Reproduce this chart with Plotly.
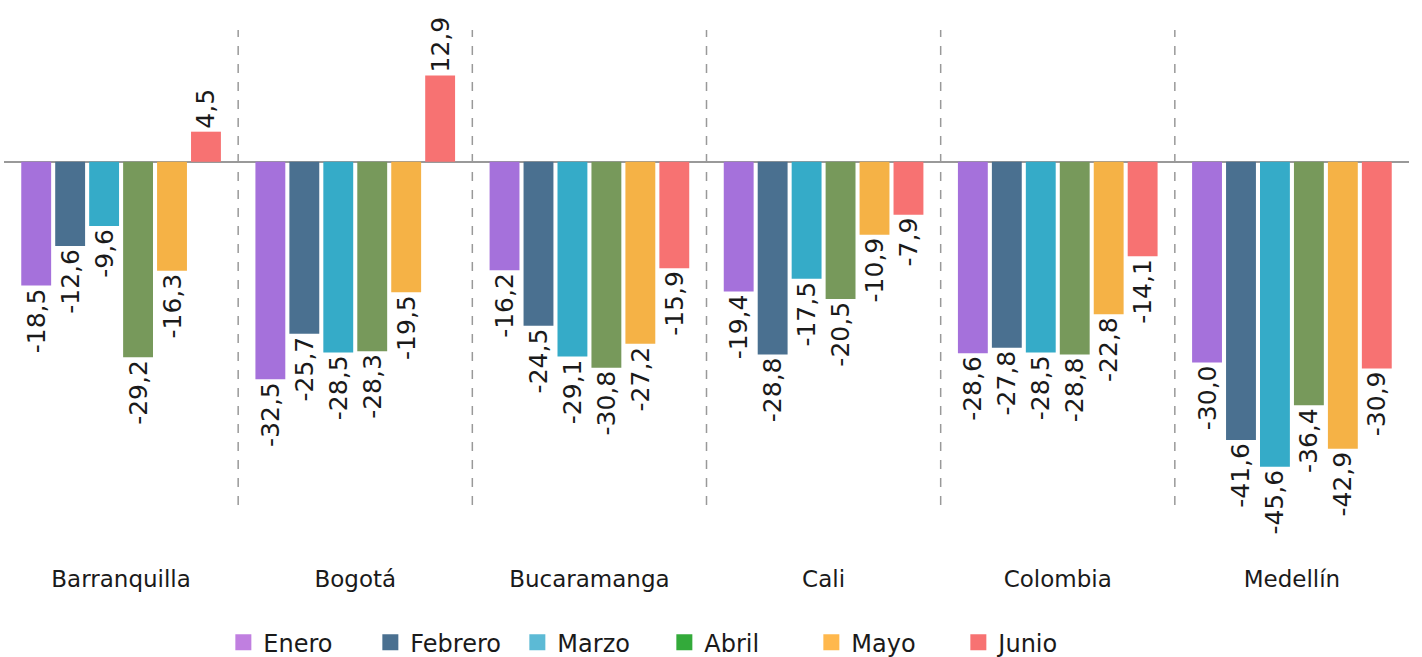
import plotly.graph_objects as go

ciudades = ["Barranquilla", "Bogotá", "Bucaramanga", "Cali", "Colombia", "Medellín"]
meses = ["Enero", "Febrero", "Marzo", "Abril", "Mayo", "Junio"]

enero = [-18.5, -32.5, -16.2, -19.4, -28.6, -30.0]
febrero = [-12.6, -25.7, -24.5, -28.8, -27.8, -41.6]
marzo = [-9.6, -28.5, -29.1, -17.5, -28.5, -45.6]
abril = [-29.2, -28.3, -30.8, -20.5, -28.8, -36.4]
mayo = [-16.3, -19.5, -27.2, -10.9, -22.8, -42.9]
junio = [4.5, 12.9, -15.9, -7.9, -14.1, -30.9]

series = [enero, febrero, marzo, abril, mayo, junio]
bar_colors = ["#A571DB", "#4A7090", "#35ABC8", "#77995B", "#F5B246", "#F77272"]
legend_colors = ["#C07FE0", "#4A7090", "#5CBAD5", "#33AA3A", "#FFB84D", "#F77272"]

FONT = "DejaVu Sans"

fig = go.Figure()
for mes, vals, col in zip(meses, series, bar_colors):
    fig.add_trace(go.Bar(
        x=ciudades, y=vals, name=mes, showlegend=False,
        marker=dict(color=col, line=dict(width=0)),
        text=[f"{v:.1f}".replace(".", ",") for v in vals],
        textposition="outside", textangle=-90, constraintext="none",
        textfont=dict(size=25, color="#1a1a1a", family=FONT),
        cliponaxis=False,
    ))

# legend-only markers (legend colours differ slightly from bars in the original)
for mes, col in zip(meses, legend_colors):
    fig.add_trace(go.Scatter(
        x=[None], y=[None], mode="markers", name=mes,
        marker=dict(symbol="square", size=22, color=col),
    ))

# dashed separators between groups
for i in range(len(ciudades) - 1):
    fig.add_shape(type="line", xref="x", yref="paper",
                  x0=i + 0.5, x1=i + 0.5, y0=0, y1=1,
                  line=dict(color="#999999", width=1.5, dash="dash"))

fig.update_layout(
    width=1422, height=657,
    margin=dict(l=4, r=13, t=30, b=152, autoexpand=False),
    paper_bgcolor="white", plot_bgcolor="white",
    barmode="group", bargap=0.13, bargroupgap=0.12,
    font=dict(family=FONT, color="#1a1a1a"),
    showlegend=True,
    legend=dict(orientation="h", x=0.47, xanchor="center", y=-0.29, yanchor="middle",
                font=dict(size=24, family=FONT), itemsizing="trace",
                entrywidth=102, entrywidthmode="pixels"),
    xaxis=dict(showgrid=False, showline=False, ticks="", automargin=False,
               tickfont=dict(size=23, family=FONT, color="#1a1a1a"),
               ticklabelstandoff=58, range=[-0.5, 5.5]),
    yaxis=dict(range=[-51.3, 19.7], showgrid=False, showticklabels=False,
               automargin=False,
               zeroline=True, zerolinecolor="#999999", zerolinewidth=2),
)

fig.write_html("out.html", config={"displayModeBar": False},
               post_script="document.body.style.margin='0';")
